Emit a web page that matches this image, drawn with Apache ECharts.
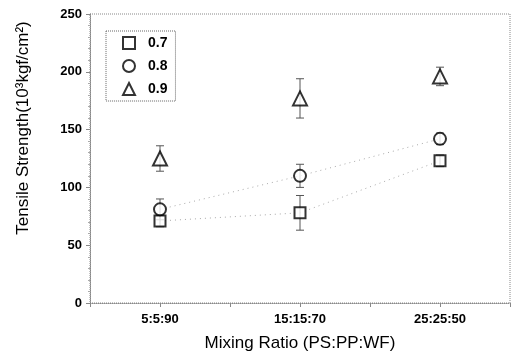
<!DOCTYPE html>
<html><head><meta charset="utf-8">
<script src="https://cdn.jsdelivr.net/npm/echarts@6/dist/echarts.min.js"></script>
<style>html,body{margin:0;padding:0;background:#fff}#c{width:516px;height:362px}</style>
</head><body><div id="c"></div>
<script>
var categories = ['5:5:90', '15:15:70', '25:25:50'];
var seriesNames = ['0.7', '0.8', '0.9'];
var values07 = [71, 78, 123];
var values08 = [81, 110, 142];
var values09 = [125, 177, 196];
var err07 = [5, 15, 5];
var err08 = [9, 10, 5];
var err09 = [11, 17, 8];
var yTicks = [0, 50, 100, 150, 200, 250];
var yTitle = 'Tensile Strength(10³kgf/cm²)';
var xTitle = 'Mixing Ratio (PS:PP:WF)';

var allVals = [values07, values08, values09];
var allErr = [err07, err08, err09];
var symbols = ['emptyRect', 'emptyCircle', 'emptyTriangle'];
var sizes = [11, 12, 14];

function pts(v){ return v.map(function(y,i){ return [i+1, y]; }); }

var series = [];
[0,1].forEach(function(k){
  series.push({type:'line', data:pts(allVals[k]), symbol:'none', silent:true,
    lineStyle:{color:'#aaa', width:1, type:[1,4]}, z:1});
});
allVals.forEach(function(v,k){
  series.push({type:'custom', silent:true, z:2,
    data: v.map(function(y,i){ return [i+1, y-allErr[k][i], y+allErr[k][i]]; }),
    renderItem:function(params, api){
      var lo = api.coord([api.value(0), api.value(1)]);
      var hi = api.coord([api.value(0), api.value(2)]);
      var w = 4;
      var st = {stroke:'#555', lineWidth:1};
      return {type:'group', children:[
        {type:'line', shape:{x1:lo[0],y1:lo[1],x2:hi[0],y2:hi[1]}, style:st},
        {type:'line', shape:{x1:lo[0]-w,y1:lo[1],x2:lo[0]+w,y2:lo[1]}, style:st},
        {type:'line', shape:{x1:hi[0]-w,y1:hi[1],x2:hi[0]+w,y2:hi[1]}, style:st}
      ]};
    }
  });
});
allVals.forEach(function(v,k){
  series.push({name:seriesNames[k], type:'scatter', data:pts(v), symbol:symbols[k], symbolSize:sizes[k],
    itemStyle:{color:'#000', borderColor:'#000', borderWidth:2.4}, z:5});
});

var chart = echarts.init(document.getElementById('c'));
chart.setOption({
  animation:false,
  backgroundColor:'#fff',
  textStyle:{fontFamily:'Liberation Sans, Arial, sans-serif'},
  graphic:[{
    type:'text', x:23, y:128, rotation:Math.PI/2,
    style:{text:yTitle, fontSize:17, fill:'#000', align:'center', verticalAlign:'middle',
      fontFamily:'Liberation Sans, Arial, sans-serif'}
  }],
  legend:{
    show:true, orient:'vertical', left:106, top:31,
    data:seriesNames.map(function(n,k){ return {name:n, icon:['rect','circle','triangle'][k]}; }),
    itemWidth:12, itemHeight:12, itemGap:9,
    borderColor:'#666', borderWidth:1, borderType:'dotted', padding:[5,8,5,16],
    textStyle:{fontSize:14, color:'#000', fontWeight:'bold', padding:[0,0,0,8]},
    itemStyle:{color:'#fff', borderColor:'#000', borderWidth:2}
  },
  grid:{left:90, right:6, top:14, bottom:59, show:true, borderColor:'#888', borderWidth:1, borderType:'dotted'},
  xAxis:{
    type:'value', min:0.5, max:3.5, interval:0.5,
    name:xTitle, nameLocation:'middle', nameGap:32,
    nameTextStyle:{fontSize:17, color:'#000'},
    axisLine:{show:true, lineStyle:{color:'#888', type:'dotted'}},
    axisTick:{show:true, inside:false, length:4, lineStyle:{color:'#888'}},
    splitLine:{show:false},
    axisLabel:{fontSize:13, color:'#000', fontWeight:'bold', margin:10,
      formatter:function(v){ var i=Math.round(v); return (Math.abs(v-i)<1e-6 && i>=1 && i<=3) ? categories[i-1] : ''; }}
  },
  yAxis:{
    type:'value', min:0, max:250, interval:50,
    axisLine:{show:true, lineStyle:{color:'#888', type:'dotted'}},
    axisTick:{show:true, length:4, lineStyle:{color:'#888'}},
    minorTick:{show:true, splitNumber:5, length:2, lineStyle:{color:'#aaa'}},
    splitLine:{show:false},
    axisLabel:{fontSize:13, color:'#000', fontWeight:'bold', margin:8,
      formatter:function(v){ return yTicks.indexOf(v)>=0 ? String(v) : ''; }}
  },
  series:series
});
</script>
</body></html>
